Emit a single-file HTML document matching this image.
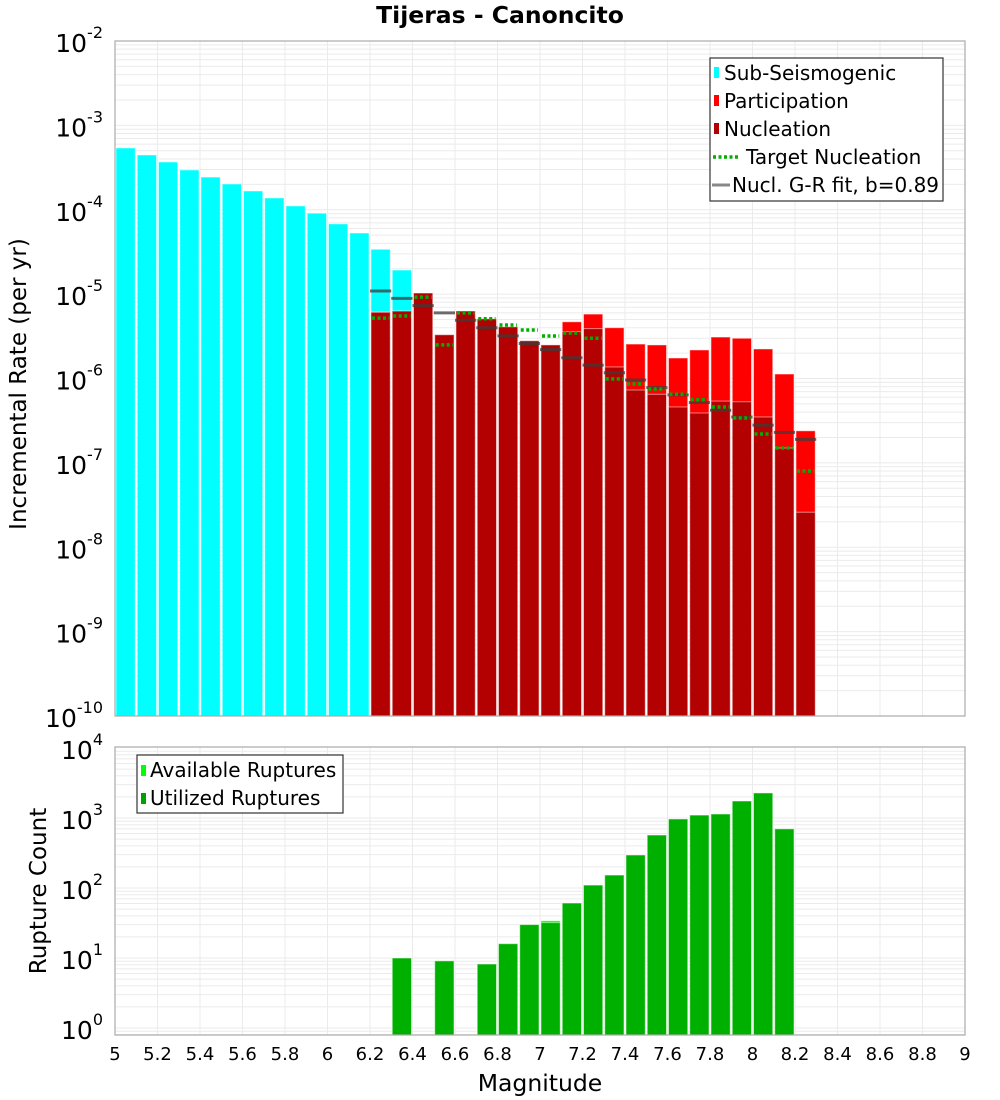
<!DOCTYPE html>
<html><head><meta charset="utf-8"><style>
body{margin:0;background:#fff;}
svg{display:block;font-family:"DejaVu Sans","Liberation Sans",sans-serif;}
</style></head><body>
<svg id="chart" width="1000" height="1100" viewBox="0 0 1000 1100" xmlns="http://www.w3.org/2000/svg">
<text x="500" y="23" text-anchor="middle" font-size="23.5" font-weight="bold">Tijeras - Canoncito</text>
<g id="topg"></g><g id="botg"></g>
<text transform="translate(26,384) rotate(-90)" text-anchor="middle" font-size="23">Incremental Rate (per yr)</text>
<text transform="translate(46,891) rotate(-90)" text-anchor="middle" font-size="23">Rupture Count</text>
<text x="540" y="1091" text-anchor="middle" font-size="23.5">Magnitude</text>
<g>
<rect x="710" y="58" width="233" height="143" fill="#fff" stroke="#333" stroke-width="1.2"/>
<rect x="714" y="67" width="5" height="11" fill="#00ffff"/><text x="724" y="80" font-size="20">Sub-Seismogenic</text>
<rect x="714" y="95" width="5" height="11" fill="#ff0000"/><text x="724" y="108" font-size="20">Participation</text>
<rect x="714" y="123" width="5" height="11" fill="#b30000"/><text x="724" y="136" font-size="20">Nucleation</text>
<line x1="713" y1="157" x2="739" y2="157" stroke="#00b000" stroke-width="3.5" stroke-dasharray="3,2.5"/><text x="746" y="164" font-size="20">Target Nucleation</text>
<line x1="712" y1="185" x2="730" y2="185" stroke="#888" stroke-width="3"/><text x="732" y="192" font-size="20">Nucl. G-R fit, b=0.89</text>
</g>
<g>
<rect x="137" y="755" width="206" height="58" fill="#fff" stroke="#333" stroke-width="1.2"/>
<rect x="141" y="765" width="5" height="11" fill="#00ff00"/><text x="150" y="777" font-size="20">Available Ruptures</text>
<rect x="141" y="793" width="5" height="11" fill="#00a000"/><text x="150" y="805" font-size="20">Utilized Ruptures</text>
</g>
</svg>
<script>
// magnitude bins (lower edges)
const subBins=[5.0,5.1,5.2,5.3,5.4,5.5,5.6,5.7,5.8,5.9,6.0,6.1,6.2,6.3];
const subRates=[5.4e-4,4.46e-4,3.68e-4,2.96e-4,2.44e-4,2.02e-4,1.67e-4,1.38e-4,1.11e-4,9.1e-5,6.8e-5,5.3e-5,3.4e-5,1.93e-5];
const supBins=[6.2,6.3,6.4,6.5,6.6,6.7,6.8,6.9,7.0,7.1,7.2,7.3,7.4,7.5,7.6,7.7,7.8,7.9,8.0,8.1,8.2];
const partRates=[6.1e-6,6.3e-6,1.03e-5,3.3e-6,6.3e-6,5.1e-6,4.1e-6,2.8e-6,2.5e-6,4.7e-6,5.8e-6,4.0e-6,2.56e-6,2.5e-6,1.75e-6,2.18e-6,3.1e-6,3.0e-6,2.24e-6,1.13e-6,2.4e-7];
const nuclRates=[6.1e-6,6.3e-6,1.03e-5,3.3e-6,6.3e-6,5.1e-6,4.1e-6,2.8e-6,2.5e-6,3.6e-6,3.9e-6,1.37e-6,7.3e-7,6.5e-7,4.6e-7,3.9e-7,5.4e-7,5.3e-7,3.5e-7,1.5e-7,2.6e-8];
const targetRates=[5.2e-6,5.5e-6,9.2e-6,2.5e-6,6.0e-6,5.1e-6,4.3e-6,3.76e-6,3.19e-6,3.46e-6,3.0e-6,9.9e-7,8.6e-7,7.5e-7,6.5e-7,5.6e-7,4.6e-7,3.4e-7,2.2e-7,1.5e-7,8.0e-8];
const grRates=[1.09e-5,8.9e-6,7.3e-6,6.0e-6,4.9e-6,4.0e-6,3.2e-6,2.6e-6,2.2e-6,1.76e-6,1.44e-6,1.17e-6,9.6e-7,7.8e-7,6.4e-7,5.2e-7,4.2e-7,3.5e-7,2.8e-7,2.3e-7,1.9e-7];
const ruptBins=[6.3,6.5,6.7,6.8,6.9,7.0,7.1,7.2,7.3,7.4,7.5,7.6,7.7,7.8,7.9,8.0,8.1];
const availCounts=[10,9.1,8.2,16,30,34,61,110,153,296,571,968,1100,1140,1750,2280,700];
const usedCounts=[10,9.1,8.2,16,30,32,61,110,153,296,571,968,1100,1140,1750,2280,700];
const xTicks=["5","5.2","5.4","5.6","5.8","6","6.2","6.4","6.6","6.8","7","7.2","7.4","7.6","7.8","8","8.2","8.4","8.6","8.8","9"];
const topExps=[-2,-3,-4,-5,-6,-7,-8,-9,-10];
const botExps=[4,3,2,1,0];

const NS="http://www.w3.org/2000/svg";
const X0=115,X1=965;
const xs=m=>X0+(m-5)*(X1-X0)/4;
const TT=41,TB=716,BT=747,BB=1035;
const yTop=v=>TT+(-2-Math.log10(v))*(TB-TT)/8;
const yBot=v=>748+(4-Math.log10(v))*70;
function mk(parent,tag,attrs){const e=document.createElementNS(NS,tag);for(const k in attrs)e.setAttribute(k,attrs[k]);parent.appendChild(e);return e;}
const gTop=document.getElementById('topg'),gBot=document.getElementById('botg');

function frame(g,t,b,yf,lo,hi,name){
  const bg=mk(g,'rect',{x:X0,y:t,width:X1-X0,height:b-t,fill:'#fff'});
  
  
  for(let e=lo;e<hi;e++)for(let k=1;k<10;k++){const y=yf(k*Math.pow(10,e));if(y<t-0.5||y>b+0.5)continue;
    const l=mk(g,'line',{x1:X0,x2:X1,y1:y,y2:y,stroke:'#ebebeb','stroke-width':1});
    
    }
  for(let i=1;i<20;i++){const x=xs(5+i*0.2);
    const l=mk(g,'line',{x1:x,x2:x,y1:t,y2:b,stroke:'#ebebeb','stroke-width':1});
    
    }
}
function border(g,t,b,name){const r=mk(g,'rect',{x:X0,y:t,width:X1-X0,height:b-t,fill:'none',stroke:'#aaa','stroke-width':1.2});
  
  }
function bar(g,m,v,yf,base,color,name){const x=xs(m)+1,w=xs(m+0.1)-xs(m)-2,y=yf(v);
  const r=mk(g,'rect',{x:x,y:y,width:w,height:base-y,fill:color,stroke:'rgba(255,255,255,0.5)','stroke-width':1});
  
  }

frame(gTop,TT,TB,yTop,-10,-2,'top');
subBins.forEach((m,i)=>bar(gTop,m,subRates[i],yTop,TB,'#00ffff','sub-seismogenic-bar'));
supBins.forEach((m,i)=>bar(gTop,m,partRates[i],yTop,TB,'#ff0000','participation-bar'));
supBins.forEach((m,i)=>bar(gTop,m,nuclRates[i],yTop,TB,'#b30000','nucleation-bar'));
supBins.forEach((m,i)=>{const y=yTop(grRates[i]);
  const l=mk(gTop,'line',{x1:xs(m),x2:xs(m+0.1),y1:y,y2:y,stroke:'rgba(60,60,60,0.75)','stroke-width':3});
  
  });
supBins.forEach((m,i)=>{const y=yTop(targetRates[i]);
  const l=mk(gTop,'line',{x1:xs(m)+2,x2:xs(m+0.1)-2,y1:y,y2:y,stroke:'#00b000','stroke-width':3.5,'stroke-dasharray':'3,2.5'});
  
  });
border(gTop,TT,TB,'top');
topExps.forEach(e=>{const y=yTop(Math.pow(10,e));
  const t=mk(gTop,'text',{x:103,y:y+11,'text-anchor':'end','font-size':25});
  
  
  t.innerHTML='10<tspan dy="-14" font-size="16">'+e+'</tspan>';});

frame(gBot,BT,BB,yBot,-1,4,'bottom');
ruptBins.forEach((m,i)=>bar(gBot,m,availCounts[i],yBot,BB,'#00ff00','available-ruptures-bar'));
ruptBins.forEach((m,i)=>bar(gBot,m,usedCounts[i],yBot,BB,'#00b000','utilized-ruptures-bar'));
border(gBot,BT,BB,'bottom');
botExps.forEach(e=>{const y=yBot(Math.pow(10,e));
  const t=mk(gBot,'text',{x:103,y:y+11,'text-anchor':'end','font-size':25});
  
  
  t.innerHTML='10<tspan dy="-14" font-size="16">'+e+'</tspan>';});
xTicks.forEach(s=>{const t=mk(gBot,'text',{x:xs(parseFloat(s)),y:1060,'text-anchor':'middle','font-size':18});
  
  
  t.textContent=s;});
</script>
</body></html>
